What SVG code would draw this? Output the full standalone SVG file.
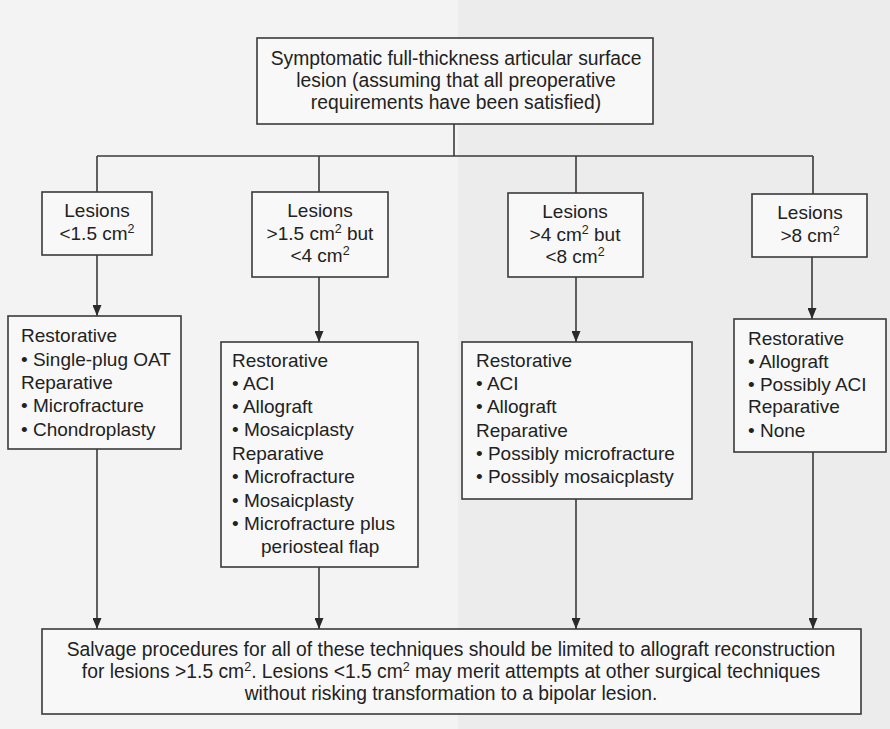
<svg xmlns="http://www.w3.org/2000/svg" width="890" height="729" viewBox="0 0 890 729">
<defs>
<style>
text{font-family:"Liberation Sans",Arial,sans-serif;font-size:19px;fill:#222}
.c{text-anchor:middle}
.big{font-size:19.3px}
.box{fill:#f8f8f8;stroke:#3a3a3a;stroke-width:1.6}
.ln{stroke:#3a3a3a;stroke-width:1.6;fill:none}
.sup{font-size:12.5px}
</style>
<marker id="ah" markerWidth="11" markerHeight="9" refX="11" refY="4.5" orient="auto" markerUnits="userSpaceOnUse">
<path d="M0,0 L11,4.5 L0,9 z" fill="#2a2a2a"/>
</marker>
</defs>
<rect x="0" y="0" width="890" height="729" fill="#f3f3f3"/>
<rect x="458" y="0" width="432" height="729" fill="#ececec"/>

<g id="connectors">
<line class="ln" x1="454" y1="124" x2="454" y2="156"/>
<line class="ln" x1="97" y1="156" x2="813" y2="156"/>
<line class="ln" x1="97" y1="156" x2="97" y2="192"/>
<line class="ln" x1="319" y1="156" x2="319" y2="192"/>
<line class="ln" x1="576" y1="156" x2="576" y2="193"/>
<line class="ln" x1="813" y1="156" x2="813" y2="194"/>
<line class="ln" x1="97" y1="255" x2="97" y2="316" marker-end="url(#ah)"/>
<line class="ln" x1="319" y1="277" x2="319" y2="342" marker-end="url(#ah)"/>
<line class="ln" x1="576" y1="277" x2="576" y2="342" marker-end="url(#ah)"/>
<line class="ln" x1="812" y1="257" x2="812" y2="319" marker-end="url(#ah)"/>
<line class="ln" x1="97" y1="449" x2="97" y2="629" marker-end="url(#ah)"/>
<line class="ln" x1="319" y1="567" x2="319" y2="629" marker-end="url(#ah)"/>
<line class="ln" x1="576" y1="499" x2="576" y2="629" marker-end="url(#ah)"/>
<line class="ln" x1="813" y1="452" x2="813" y2="629" marker-end="url(#ah)"/>
</g>

<g id="top">
<rect class="box" x="257" y="38" width="396" height="86"/>
<text class="c big" x="456" y="65">Symptomatic full-thickness articular surface</text>
<text class="c big" x="456" y="87">lesion (assuming that all preoperative</text>
<text class="c big" x="456" y="109">requirements have been satisfied)</text>
</g>

<g id="lesion1">
<rect class="box" x="42" y="192" width="110" height="63"/>
<text class="c" x="97" y="217">Lesions</text>
<text class="c" x="97" y="240">&lt;1.5 cm<tspan class="sup" dy="-7">2</tspan></text>
</g>

<g id="lesion2">
<rect class="box" x="252" y="192" width="136" height="85"/>
<text class="c" x="320" y="217">Lesions</text>
<text class="c" x="320" y="240">&gt;1.5 cm<tspan class="sup" dy="-7">2</tspan><tspan dy="7"> but</tspan></text>
<text class="c" x="320" y="262">&lt;4 cm<tspan class="sup" dy="-7">2</tspan></text>
</g>

<g id="lesion3">
<rect class="box" x="508" y="193" width="135" height="84"/>
<text class="c" x="575" y="218">Lesions</text>
<text class="c" x="575" y="241">&gt;4 cm<tspan class="sup" dy="-7">2</tspan><tspan dy="7"> but</tspan></text>
<text class="c" x="575" y="263">&lt;8 cm<tspan class="sup" dy="-7">2</tspan></text>
</g>

<g id="lesion4">
<rect class="box" x="752" y="194" width="115" height="63"/>
<text class="c" x="810" y="219">Lesions</text>
<text class="c" x="810" y="242">&gt;8 cm<tspan class="sup" dy="-7">2</tspan></text>
</g>

<g id="treat1">
<rect class="box" x="8" y="316" width="173" height="133"/>
<text x="21" y="342">Restorative</text>
<text x="21" y="366">• Single-plug OAT</text>
<text x="21" y="389">Reparative</text>
<text x="21" y="412">• Microfracture</text>
<text x="21" y="436">• Chondroplasty</text>
</g>

<g id="treat2">
<rect class="box" x="221" y="342" width="197" height="225"/>
<text x="232" y="367">Restorative</text>
<text x="232" y="390">• ACI</text>
<text x="232" y="413">• Allograft</text>
<text x="232" y="436">• Mosaicplasty</text>
<text x="232" y="460">Reparative</text>
<text x="232" y="483">• Microfracture</text>
<text x="232" y="507">• Mosaicplasty</text>
<text x="232" y="530">• Microfracture plus</text>
<text x="261" y="553">periosteal flap</text>
</g>

<g id="treat3">
<rect class="box" x="462" y="342" width="230" height="157"/>
<text x="476" y="367">Restorative</text>
<text x="476" y="390">• ACI</text>
<text x="476" y="413">• Allograft</text>
<text x="476" y="437">Reparative</text>
<text x="476" y="460">• Possibly microfracture</text>
<text x="476" y="483">• Possibly mosaicplasty</text>
</g>

<g id="treat4">
<rect class="box" x="734" y="319" width="152" height="133"/>
<text x="748" y="345">Restorative</text>
<text x="748" y="368">• Allograft</text>
<text x="748" y="391">• Possibly ACI</text>
<text x="748" y="413">Reparative</text>
<text x="748" y="437">• None</text>
</g>

<g id="salvage">
<rect class="box" x="42" y="629" width="819" height="85"/>
<text class="c big" x="451" y="656">Salvage procedures for all of these techniques should be limited to allograft reconstruction</text>
<text class="c big" x="451" y="678">for lesions &gt;1.5 cm<tspan class="sup" dy="-7">2</tspan><tspan dy="7">. Lesions &lt;1.5 cm</tspan><tspan class="sup" dy="-7">2</tspan><tspan dy="7"> may merit attempts at other surgical techniques</tspan></text>
<text class="c big" x="451" y="700">without risking transformation to a bipolar lesion.</text>
</g>
</svg>
